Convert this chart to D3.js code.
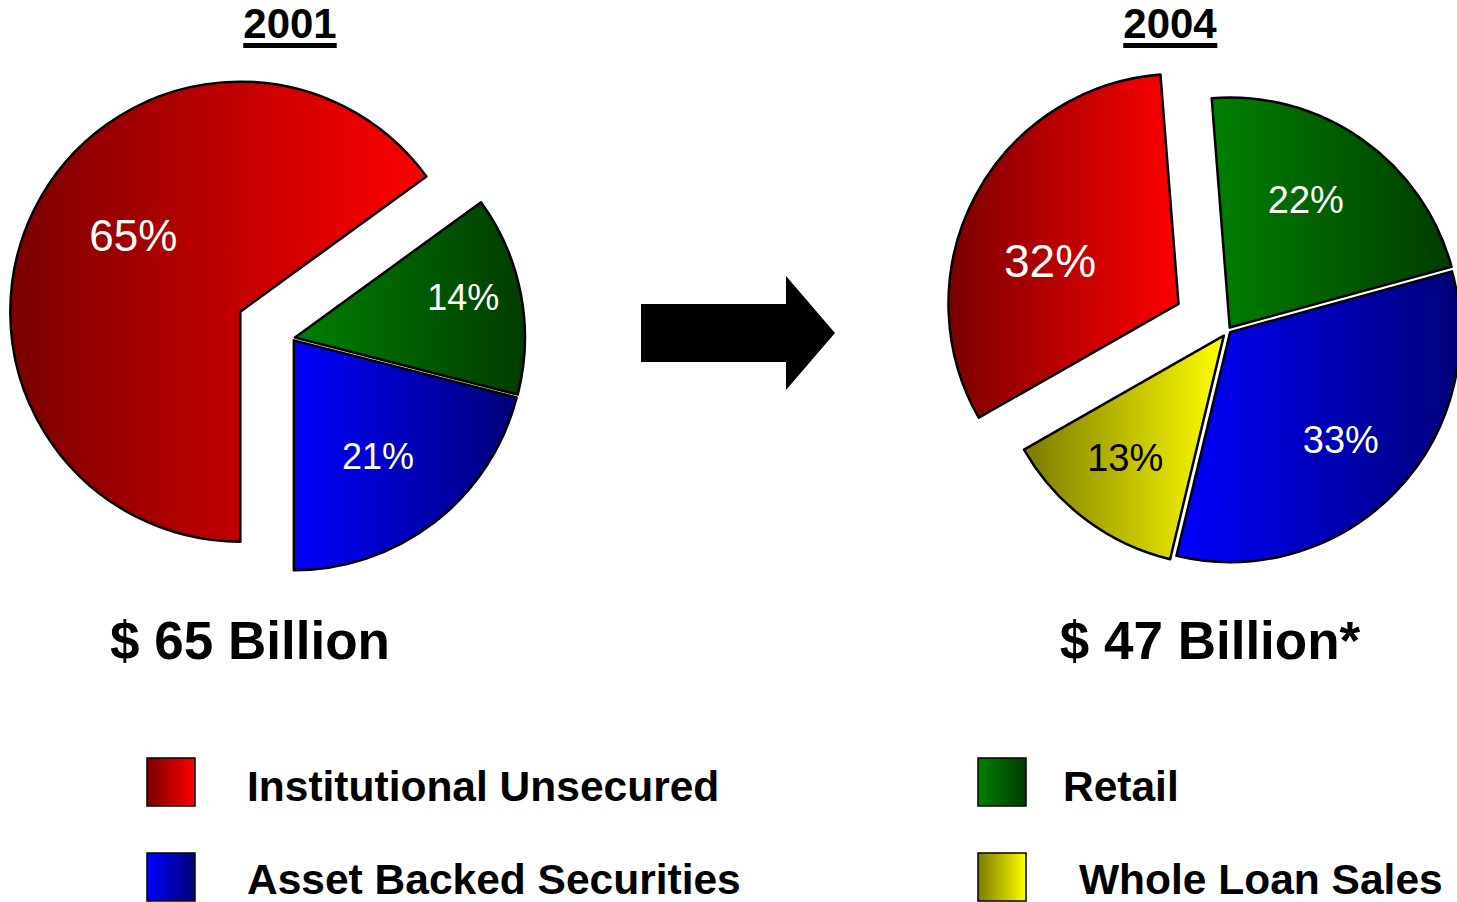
<!DOCTYPE html>
<html>
<head>
<meta charset="utf-8">
<script src="https://cdn.jsdelivr.net/npm/d3@7"></script>
<style>
  body { margin: 0; background: #fff; }
  svg { display: block; font-family: "Liberation Sans", Arial, sans-serif; }
</style>
</head>
<body>
<script>
// Data
const categories = ['Institutional Unsecured', 'Asset Backed Securities', 'Retail', 'Whole Loan Sales'];
const years = ['2001', '2004'];
const totals = ['$ 65 Billion', '$ 47 Billion*'];
// slice order as drawn clockwise
const order2001 = ['Retail', 'Asset Backed Securities', 'Institutional Unsecured'];
const values2001 = [14, 21, 65];
const order2004 = ['Retail', 'Asset Backed Securities', 'Whole Loan Sales', 'Institutional Unsecured'];
const values2004 = [22, 33, 13, 32];

// Gradient colours (left -> right)
const gradients = {
    'Institutional Unsecured': ['#7a0000', '#ff0000'],
    'Asset Backed Securities': ['#0000ff', '#000078'],
    'Retail': ['#008000', '#003c00'],
    'Whole Loan Sales': ['#7a7a00', '#ffff00']
};
const labelColor = { 'Whole Loan Sales': '#000' };

const W = 1457, H = 902, R = 230;
const svg = d3.select('body').append('svg').attr('width', W).attr('height', H);

// gradient defs
const defs = svg.append('defs');
const gid = c => 'g' + categories.indexOf(c);
categories.forEach(c => {
    const lg = defs.append('linearGradient').attr('id', gid(c))
        .attr('x1', 0).attr('y1', 0).attr('x2', 1).attr('y2', 0);
    lg.append('stop').attr('offset', '0%').attr('stop-color', gradients[c][0]);
    lg.append('stop').attr('offset', '100%').attr('stop-color', gradients[c][1]);
});

const deg = Math.PI / 180;
// label placement: [fraction of radius, angle tweak in degrees]
const pies = [
    { year: years[0], total: totals[0], cats: order2001, vals: values2001,
      cx: 292, cy: 338, start: 54 * deg, explode: { 'Institutional Unsecured': 58 },
      label: { 'Institutional Unsecured': [0.573, 8.7], 'Retail': [0.753, -2.8], 'Asset Backed Securities': [0.622, 1.8] },
      fontSize: { 'Institutional Unsecured': 44, 'Retail': 36, 'Asset Backed Securities': 36 },
      titleX: 290, totalX: 250 },
    { year: years[1], total: totals[1], cats: order2004, vals: values2004,
      cx: 1228, cy: 330, start: -4.5 * deg, explode: { 'Institutional Unsecured': 56, 'Whole Loan Sales': 7 },
      label: { 'Institutional Unsecured': [0.59, -9.1], 'Retail': [0.65, -4.5], 'Asset Backed Securities': [0.67, 0], 'Whole Loan Sales': [0.68, 2.2] },
      fontSize: { 'Institutional Unsecured': 46, 'Retail': 38, 'Asset Backed Securities': 38, 'Whole Loan Sales': 38 },
      titleX: 1170, totalX: 1210 }
];

const arc = d3.arc().innerRadius(0).outerRadius(R);

pies.forEach(p => {
    const pie = d3.pie().sort(null).startAngle(p.start).endAngle(p.start + 2 * Math.PI);
    const arcs = pie(p.vals).map((d, i) => Object.assign(d, { cat: p.cats[i] }));
    const g = svg.append('g').attr('transform', `translate(${p.cx},${p.cy})`);

    const slice = g.selectAll('g.slice').data(arcs).enter().append('g')
        .attr('class', 'slice')
        .attr('transform', d => {
            const m = (d.startAngle + d.endAngle) / 2;
            const off = p.explode[d.cat] || 3;
            return `translate(${Math.sin(m) * off},${-Math.cos(m) * off})`;
        });

    slice.append('path')
        .attr('d', arc)
        .attr('fill', d => `url(#${gid(d.cat)})`)
        .attr('stroke', '#000')
        .attr('stroke-width', 2.5)
        .attr('stroke-linejoin', 'round');

    slice.append('text')
        .attr('transform', d => {
            const [f, da] = p.label[d.cat];
            const m = (d.startAngle + d.endAngle) / 2 + da * deg;
            const r = R * f;
            return `translate(${Math.sin(m) * r},${-Math.cos(m) * r})`;
        })
        .attr('text-anchor', 'middle')
        .attr('dy', '0.36em')
        .attr('fill', d => labelColor[d.cat] || '#fff')
        .style('font-size', d => p.fontSize[d.cat] + 'px')
        .text(d => d.value + '%');

    // year title with underline
    const t = svg.append('text')
        .attr('x', p.titleX).attr('y', 38)
        .attr('text-anchor', 'middle')
        .style('font-size', '42px').style('font-weight', 'bold')
        .text(p.year);
    const bb = t.node().getBBox();
    svg.append('rect').attr('x', bb.x).attr('y', 43).attr('width', bb.width).attr('height', 5).attr('fill', '#000');

    svg.append('text')
        .attr('x', p.totalX).attr('y', 659)
        .attr('text-anchor', 'middle')
        .style('font-size', '53px').style('font-weight', 'bold')
        .text(p.total);
});

// Arrow
const arrow = [[641, 304], [786, 304], [786, 276], [835, 333], [786, 390], [786, 362], [641, 362]];
svg.append('path').attr('d', d3.line()(arrow) + 'Z').attr('fill', '#000');

// Legend
const legendPos = [
    { x: 147, y: 758, tx: 247, ty: 801 },
    { x: 147, y: 853, tx: 247, ty: 894 },
    { x: 978, y: 758, tx: 1063, ty: 801 },
    { x: 978, y: 853, tx: 1079, ty: 894 }
];
const lg = svg.append('g').attr('class', 'legend');
categories.forEach((c, i) => {
    const pos = legendPos[i];
    lg.append('rect').attr('x', pos.x).attr('y', pos.y).attr('width', 48).attr('height', 48)
        .attr('fill', `url(#${gid(c)})`).attr('stroke', '#000').attr('stroke-width', 1.5);
    lg.append('text').attr('x', pos.tx).attr('y', pos.ty)
        .style('font-size', '42.5px').style('font-weight', 'bold')
        .text(c);
});
</script>
</body>
</html>
